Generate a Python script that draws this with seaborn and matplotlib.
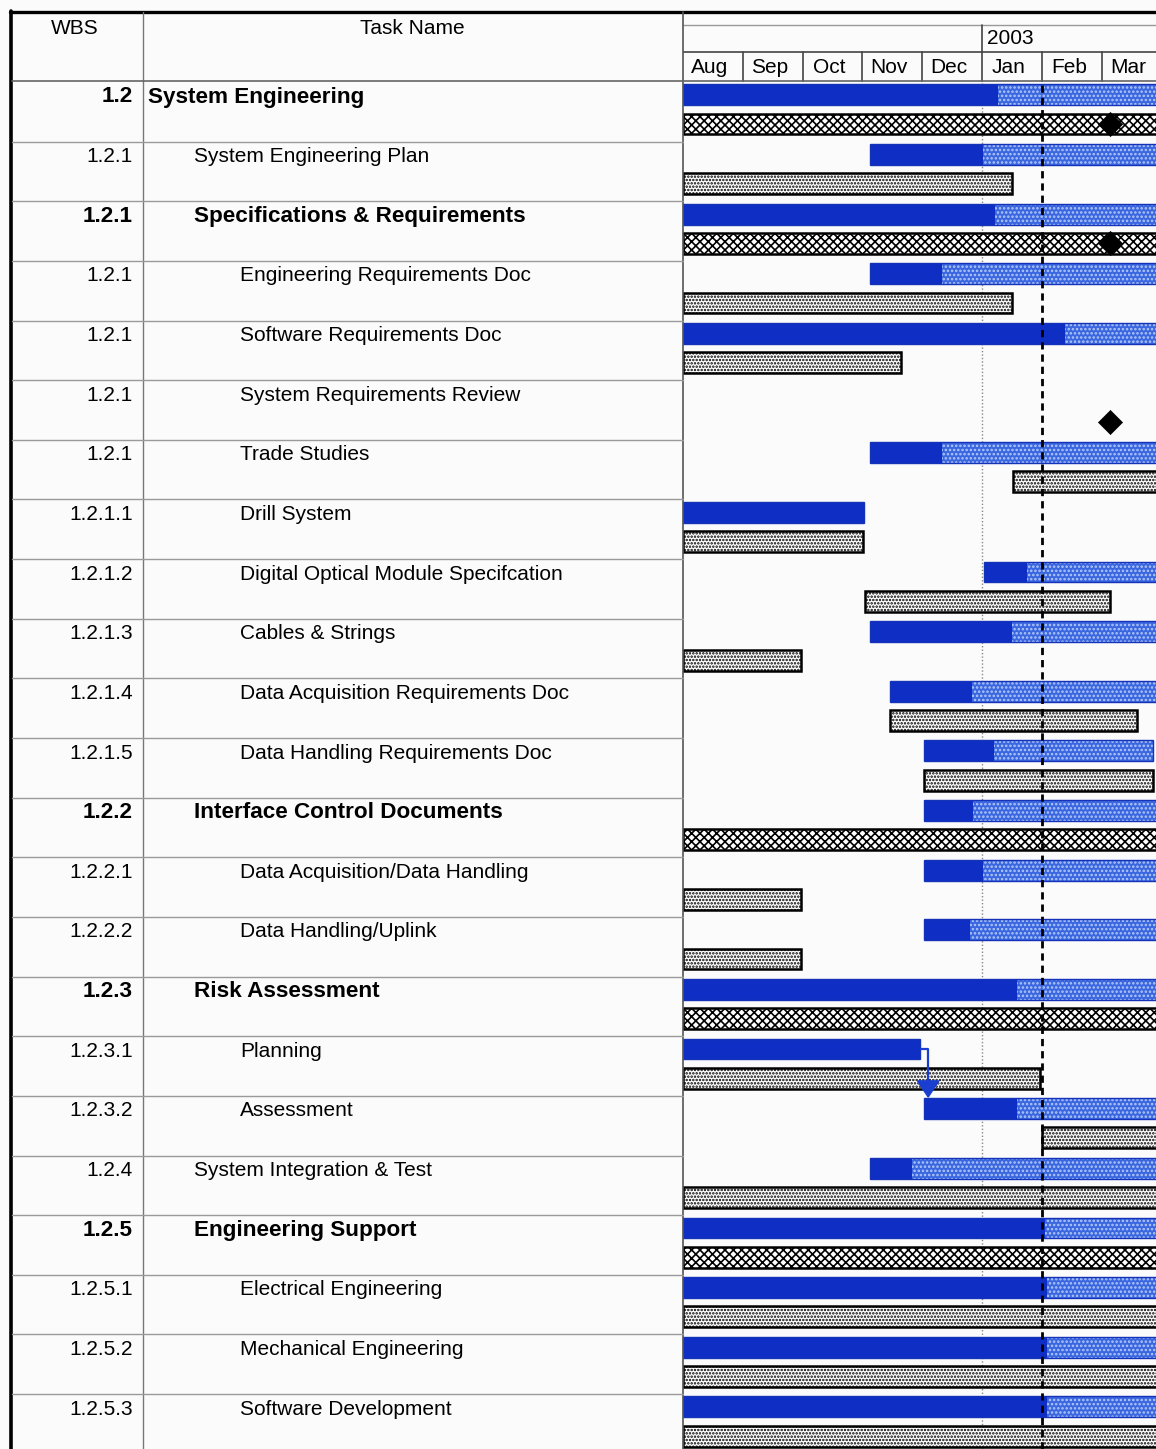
import numpy as np
import matplotlib
matplotlib.use("Agg")
import matplotlib.pyplot as plt
import seaborn as sns
import pandas as pd

# ---------------------------------------------------------------- data
wbs_codes = ["1.2", "1.2.1", "1.2.1", "1.2.1", "1.2.1", "1.2.1", "1.2.1",
             "1.2.1.1", "1.2.1.2", "1.2.1.3", "1.2.1.4", "1.2.1.5",
             "1.2.2", "1.2.2.1", "1.2.2.2", "1.2.3", "1.2.3.1", "1.2.3.2",
             "1.2.4", "1.2.5", "1.2.5.1", "1.2.5.2", "1.2.5.3"]
task_names = ["System Engineering", "System Engineering Plan",
              "Specifications & Requirements", "Engineering Requirements Doc",
              "Software Requirements Doc", "System Requirements Review",
              "Trade Studies", "Drill System", "Digital Optical Module Specifcation",
              "Cables & Strings", "Data Acquisition Requirements Doc",
              "Data Handling Requirements Doc", "Interface Control Documents",
              "Data Acquisition/Data Handling", "Data Handling/Uplink",
              "Risk Assessment", "Planning", "Assessment",
              "System Integration & Test", "Engineering Support",
              "Electrical Engineering", "Mechanical Engineering",
              "Software Development"]
outline_level = [0, 1, 1, 2, 2, 2, 2, 2, 2, 2, 2, 2, 1, 2, 2, 1, 2, 2, 1, 1, 2, 2, 2]
is_summary = [True, False, True, False, False, False, False, False, False,
              False, False, False, True, False, False, True, False, False,
              False, True, False, False, False]

# timeline in months, 0 = 1 Aug 2002; values past the window run off the right edge
nan = np.nan
plan_start = [0, 3.13, 0, 3.13, 0, nan, 3.13, 0, 5.03, 3.13, 3.46, 4.03,
              4.03, 4.03, 4.03, 0, 0, 4.03, 3.13, 0, 0, 0, 0]
plan_finish = [8.4, 8.4, 8.4, 8.4, 8.4, nan, 8.4, 3.03, 8.4, 8.4, 8.4, 7.86,
               8.4, 8.4, 8.4, 8.4, 3.96, 8.4, 8.4, 8.4, 8.4, 8.4, 8.4]
complete_through = [5.27, 5.02, 5.22, 4.33, 6.39, nan, 4.33, 3.03, 5.75, 5.50,
                    4.83, 5.20, 4.85, 5.02, 4.80, 5.59, 3.96, 5.59, 3.83, 6.05,
                    6.08, 6.08, 6.08]
baseline_start = [0, 0, 0, 0, 0, nan, 5.52, 0, 3.04, 0, 3.46, 4.03, 0, 0, 0,
                  0, 0, 6.0, 0, 0, 0, 0, 0]
baseline_finish = [8.4, 5.50, 8.4, 5.50, 3.65, nan, 8.4, 3.01, 7.14, 1.97,
                   7.59, 7.86, 8.4, 1.97, 1.97, 8.4, 5.97, 8.4, 8.4, 8.4, 8.4,
                   8.4, 8.4]
milestone_rows = [0, 2, 5]
milestone_month = [7.14, 7.14, 7.14]
dependencies = [(16, 17)]          # Planning -> Assessment

month_labels = ["Aug", "Sep", "Oct", "Nov", "Dec", "Jan", "Feb", "Mar"]
year_label = "2003"
year_start_month = 5
status_month = 6.0

# ---------------------------------------------------------------- style
sns.set_theme(style="white")
plt.rcParams["font.family"] = ["Liberation Sans", "DejaVu Sans"]
plt.rcParams["text.color"] = "black"
plt.rcParams["hatch.linewidth"] = 1.2

W, H = 1156, 1449
ROW_H = 59.64
TOP = 82
CHART_X0 = 683
MONTH_W = 59.8
n_rows = len(task_names)

dark_blue = "#0f2fc4"
light_blue = "#3a66e0"
light_dots = "#b4caf8"
link_blue = "#1a3fd0"
bg = "#fbfbfb"

fig = plt.figure(figsize=(W / 100, H / 100), dpi=100, facecolor=bg)

# ---------------------------------------------------------------- gantt area
ax = fig.add_axes([CHART_X0 / W, 0, (W - CHART_X0) / W, (H - TOP) / H])
ax.set_facecolor(bg)
ax.set_xlim(0, (W - CHART_X0) / MONTH_W)
ax.set_ylim((H - TOP) / ROW_H, 0)
ax.set_axis_off()

ax.axvline(year_start_month, color="#888888", lw=1, ls=(0, (1, 1.5)), zorder=0)

rows = np.arange(n_rows)
bar_top, bar_h = 0.04, 0.35
base_top, base_h = 0.53, 0.35

ps = np.array(plan_start); pf = np.array(plan_finish); pc = np.array(complete_through)
bs = np.array(baseline_start); bf = np.array(baseline_finish)
ok = ~np.isnan(ps)

# remaining work (dotted light blue)
ax.barh(rows[ok] + bar_top, pf[ok] - ps[ok], left=ps[ok], height=bar_h,
        align="edge", color=light_blue, edgecolor=light_dots, linewidth=0,
        hatch="....", zorder=2)
# completed work (solid dark blue)
ax.barh(rows[ok] + bar_top, pc[ok] - ps[ok], left=ps[ok], height=bar_h,
        align="edge", color=dark_blue, linewidth=0, zorder=3)
# outline of the whole task bar
ax.barh(rows[ok] + bar_top, pf[ok] - ps[ok], left=ps[ok], height=bar_h,
        align="edge", fill=False, edgecolor="#1533b8", linewidth=1, zorder=4)

# baseline bars
summ = np.array(is_summary)
okb = ~np.isnan(bs)
for mask, hatch in [(okb & summ, "xxxx"), (okb & ~summ, ".....")]:
    ax.barh(rows[mask] + base_top, bf[mask] - bs[mask], left=bs[mask],
            height=base_h, align="edge", color="white", edgecolor="black",
            linewidth=1.8, hatch=hatch, zorder=2)

# milestones
ms = pd.DataFrame({"month": milestone_month,
                   "row": np.array(milestone_rows) + base_top + base_h / 2})
sns.scatterplot(data=ms, x="month", y="row", marker="D", s=150, color="black",
                edgecolor="black", linewidth=0.5, ax=ax, zorder=6, legend=False)
ax.set_xlabel(""); ax.set_ylabel("")

# dependency links
for a, b in dependencies:
    x_end = pf[a]
    y_a = a + bar_top + bar_h / 2
    x_turn = ps[b] + 0.07
    ax.plot([x_end, x_turn, x_turn], [y_a, y_a, b - 0.2],
            color=link_blue, lw=1.6, zorder=5, solid_capstyle="butt")
    ax.annotate("", xy=(x_turn, b + bar_top), xytext=(x_turn, b - 0.24),
                arrowprops=dict(arrowstyle="-|>,head_width=0.6,head_length=0.9",
                                color=link_blue, lw=1.6, shrinkA=0, shrinkB=0),
                zorder=5)

ax.axvline(status_month, color="black", lw=2, ls=(0, (2.6, 1.8)), zorder=7)

# ---------------------------------------------------------------- timescale header
axh = fig.add_axes([CHART_X0 / W, (H - TOP) / H, (W - CHART_X0) / W, (TOP - 12) / H],
                   sharex=ax)
axh.set_ylim(70, 0)
axh.set_axis_off()
axh.axhline(13, color="#999999", lw=1)
axh.axhline(40, color="#444444", lw=1.2)
axh.plot([year_start_month, year_start_month], [13, 40], color="#444444", lw=1.2)
axh.text(year_start_month + 0.09, 27, year_label, fontsize=15, va="center", ha="left")
for i, m in enumerate(month_labels):
    if i > 0:
        axh.plot([i, i], [40, 70], color="#444444", lw=1.2)
    axh.text(i + 0.45, 55.5, m, fontsize=15, va="center", ha="center")

# ---------------------------------------------------------------- task table
axt = fig.add_axes([0, 0, 1, 1], facecolor="none")
axt.set_xlim(0, W)
axt.set_ylim(H, 0)
axt.set_axis_off()

axt.plot([11, 11], [11, H], color="black", lw=2.6)
axt.plot([10, W], [12, 12], color="black", lw=2.4)
axt.plot([143, 143], [12, H], color="#777777", lw=1)
axt.plot([CHART_X0, CHART_X0], [12, H], color="#555555", lw=1.2)
axt.plot([12, W], [81, 81], color="#666666", lw=1.2)
for i in range(1, n_rows):
    y = TOP + i * ROW_H
    axt.plot([12, CHART_X0], [y, y], color="#9a9a9a", lw=1)

axt.text(75, 28, "WBS", fontsize=15, ha="center", va="center")
axt.text(412, 28, "Task Name", fontsize=15, ha="center", va="center")

indent = {0: 148, 1: 194, 2: 240}
for i in range(n_rows):
    y = TOP + i * ROW_H + 15
    weight = "bold" if is_summary[i] else "normal"
    size = 16.2 if is_summary[i] else 15
    axt.text(133, y, wbs_codes[i], fontsize=size, fontweight=weight,
             ha="right", va="center")
    axt.text(indent[outline_level[i]], y, task_names[i], fontsize=size,
             fontweight=weight, ha="left", va="center")

fig.savefig("out.png", dpi=100, facecolor=bg)
